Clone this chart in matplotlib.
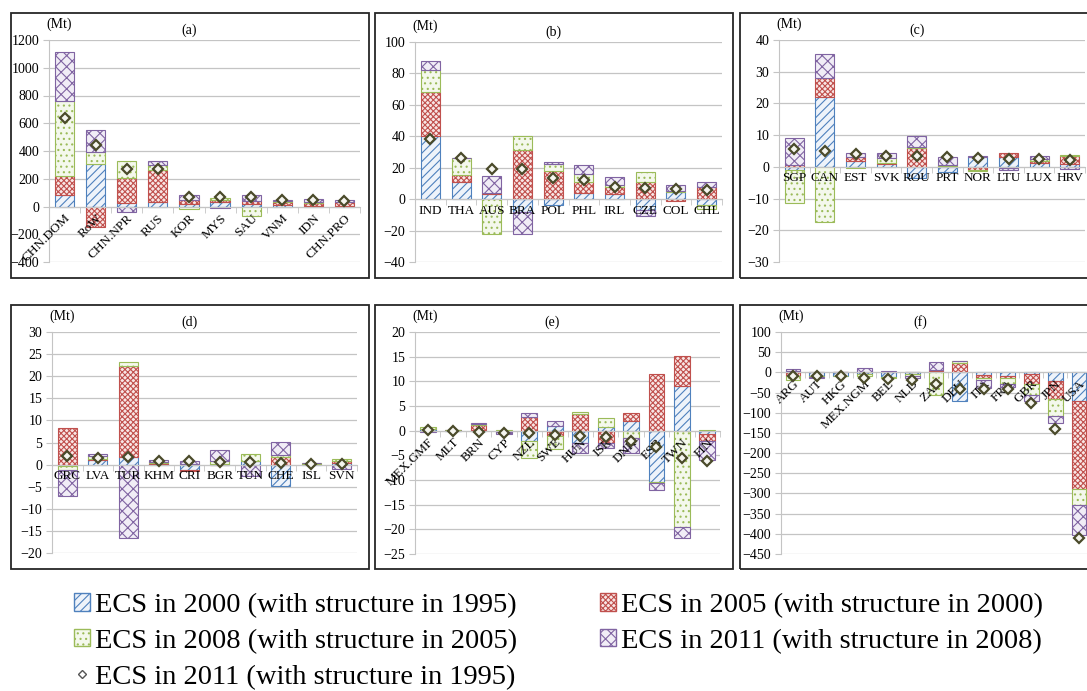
import matplotlib
matplotlib.use("Agg")
import matplotlib.pyplot as plt
import matplotlib.patches as mpatches
from matplotlib.lines import Line2D
import numpy as np

plt.rcParams['font.family'] = ['Liberation Serif', 'DejaVu Serif']
plt.rcParams['hatch.linewidth'] = 0.8

# ---------------- data ----------------
series_labels = ['ECS in 2000 (with structure in 1995)',
                 'ECS in 2005 (with structure in 2000)',
                 'ECS in 2008 (with structure in 2005)',
                 'ECS in 2011 (with structure in 2008)']
total_label = 'ECS in 2011 (with structure in 1995)'

cats_a = ['CHN.DOM', 'RoW', 'CHN.NPR', 'RUS', 'KOR', 'MYS', 'SAU', 'VNM', 'IDN', 'CHN.PRO']
a_2000 = [85, 305, 25, 30, 20, 30, 15, 10, 5, 5]
a_2005 = [135, -145, 180, 235, 30, 20, 25, 25, 20, 25]
a_2008 = [540, 85, 125, 35, -15, 10, -65, 5, 10, 5]
a_2011 = [355, 160, -40, 25, 35, -10, 40, 10, 20, 15]
a_total = [635, 440, 270, 270, 70, 65, 65, 50, 45, 40]

cats_b = ['IND', 'THA', 'AUS', 'BRA', 'POL', 'PHL', 'IRL', 'CZE', 'COL', 'CHL']
b_2000 = [40, 11, 3, -8, -4, 4, 3, -7, 4.5, -4]
b_2005 = [28, 4.5, 1, 31, 18, 7, 5, 11, -1, 8]
b_2008 = [14, 10.5, -22, 9, 4.5, 5, 1, 6, 1, -2]
b_2011 = [6, 0, 11, -14, 1, 5.5, 5, -4, 3.5, 3]
b_total = [38, 26.5, 19.5, 19, 13.5, 12, 7.5, 7, 6.5, 6]

cats_c = ['SGP', 'CAN', 'EST', 'SVK', 'ROU', 'PRT', 'NOR', 'LTU', 'LUX', 'HRV']
c_2000 = [-1, 22, 1.8, 1, -3.5, -1.5, 3, 3.2, 1.2, 1]
c_2005 = [0.5, 6, 1.2, 0.3, 6, 0.2, -1, 1.2, 0.8, 2.5]
c_2008 = [-10.5, -17.5, -0.3, 1.5, 0.3, 0.5, -0.3, -0.5, 0.5, 0.3]
c_2011 = [8.5, 7.5, 1.3, 1.5, 3.5, 2.3, 0.5, -0.5, 0.8, -0.8]
c_total = [5.5, 5, 4, 3.5, 3.3, 3, 2.7, 2.5, 2.5, 2.2]

cats_d = ['GRC', 'LVA', 'TUR', 'KHM', 'CRI', 'BGR', 'TUN', 'CHE', 'ISL', 'SVN']
d_2000 = [-0.3, 1.1, 1.8, 0.1, -1.2, 0.1, 0.8, -4.8, 0.1, 0.3]
d_2005 = [8.2, 0.1, 20.5, 0.3, -0.3, -0.1, 0.1, 1.8, 0.1, 0.5]
d_2008 = [-1.0, 0.8, 0.8, 0.2, 0.2, 0.8, 1.4, 0.4, 0.05, 0.5]
d_2011 = [-5.7, 0.3, -16.5, 0.4, 0.6, 2.4, -2.5, 3.0, 0.1, -1.0]
d_total = [2, 1.6, 1.7, 0.9, 0.9, 0.6, 0.5, 0.3, 0.2, 0.2]

cats_e = ['MEX.GMF', 'MLT', 'BRN', 'CYP', 'NZL', 'SWE', 'HUN', 'ISR', 'DNK', 'ESB', 'TWN', 'FIN']
e_2000 = [0.3, 0.05, 0.1, -0.2, -2, 1, -2.5, 0.8, 2, -10.5, 9, -0.7]
e_2005 = [0.1, 0.05, 1.1, -0.1, 2.8, -1, 3.3, -2.5, 1.5, 11.4, 6.2, -1.3]
e_2008 = [0.4, 0.05, 0.1, 0.2, -3.5, -2.7, 0.4, 1.8, -1.5, -0.2, -19.5, 0.2]
e_2011 = [-0.2, -0.1, 0.2, -0.3, 0.7, 1, -2, -1, -3, -1.3, -2.2, -4]
e_total = [0.1, 0, -0.2, -0.5, -0.5, -0.8, -1, -1.2, -2, -3.3, -5.5, -6.2]

cats_f = ['ARG', 'AUT', 'HKG', 'MEX.NGM', 'BEL', 'NLD', 'ZAF', 'DEU', 'ITA', 'FRA', 'GBR', 'JPN', 'USA']
f_2000 = [3, -8, -8, -5, -12, -5, 3, -70, -7, -10, -5, -22, -72]
f_2005 = [-10, 2, 0.5, 2, 1, 2, 2, 22, -6, -5, -25, -45, -216]
f_2008 = [-10, -3, -2, -5, -3, -5, -57, 5, -5, -13, -25, -40, -40]
f_2011 = [5, -3, 0.5, 8, 2, -3, 20, 0, -20, -8, -15, -18, -75]
f_total = [-10, -10, -10, -15, -17, -18, -30, -40, -40, -40, -77, -140, -410]

# ---------------- style ----------------
edge_colors = ['#4f81bd', '#c0504d', '#9bbb59', '#8064a2']
face_colors = ['#eef3fa', '#f8e6e5', '#f4f8ec', '#f1edf6']
hatches = ['////', 'xxxxxx', '...', 'xxx']
grid_color = '#c4c4c4'
tick_fs = 9.5

W, H = 1087, 691
fig = plt.figure(figsize=(W / 100, H / 100), dpi=100)


def px_axes(left, right, top, bottom):
    return fig.add_axes([left / W, 1 - bottom / H, (right - left) / W, (bottom - top) / H])


def frame(left, right, top, bottom):
    r = mpatches.Rectangle((left / W, 1 - bottom / H), (right - left) / W, (bottom - top) / H,
                           transform=fig.transFigure, fill=False, edgecolor='#262626',
                           linewidth=1.3, zorder=0)
    fig.add_artist(r)


def panel(pos, frm, cats, series, total, ylim, step, tag, rotate, tag_x=0.45):
    frame(*frm)
    ax = px_axes(*pos)
    x = np.arange(len(cats))
    pos_b = np.zeros(len(cats))
    neg_b = np.zeros(len(cats))
    for i, vals in enumerate(series):
        v = np.array(vals, dtype=float)
        bottoms = np.where(v >= 0, pos_b, neg_b)
        ax.bar(x, v, bottom=bottoms, width=0.62, facecolor=face_colors[i],
               edgecolor=edge_colors[i], hatch=hatches[i], linewidth=0.8, zorder=3)
        pos_b = pos_b + np.where(v >= 0, v, 0)
        neg_b = neg_b + np.where(v < 0, v, 0)
    ax.plot(x, total, linestyle='none', marker='D', markersize=5.5,
            markerfacecolor='#f5f5ef', markeredgecolor='#4a4a2a', markeredgewidth=1.6, zorder=7)
    ax.set_xlim(-0.5, len(cats) - 0.5)
    ax.set_ylim(*ylim)
    ax.set_yticks(np.arange(ylim[0], ylim[1] + step / 2, step))
    ax.yaxis.grid(True, color=grid_color, linewidth=0.9, zorder=0)
    ax.set_axisbelow(True)
    ax.xaxis.set_zorder(6)
    for s in ['top', 'right']:
        ax.spines[s].set_visible(False)
    ax.spines['left'].set_color(grid_color)
    ax.spines['bottom'].set_color(grid_color)
    ax.spines['bottom'].set_position(('data', 0))
    ax.spines['bottom'].set_zorder(4)
    ax.tick_params(axis='y', length=4, color=grid_color, labelsize=tick_fs + 0.5, pad=3)
    ax.set_xticks(x)
    ax.set_xticks(np.arange(-0.5, len(cats), 1), minor=True)
    ax.tick_params(axis='x', which='major', length=0, labelsize=tick_fs, pad=4)
    ax.tick_params(axis='x', which='minor', length=4, color=grid_color)
    if rotate:
        ax.set_xticklabels(cats, rotation=45, ha='right', va='top', rotation_mode='anchor')
    else:
        ax.set_xticklabels(cats)
    ax.text(-0.01, 1.04, '(Mt)', transform=ax.transAxes, fontsize=10, ha='left', va='bottom')
    ax.text(tag_x, 1.015, tag, transform=ax.transAxes, fontsize=10, ha='center', va='bottom')
    return ax


panel((49, 360, 40, 262), (11, 369, 13, 278), cats_a,
      [a_2000, a_2005, a_2008, a_2011], a_total, (-400, 1200), 200, '(a)', True)
panel((415, 722, 42, 262), (375, 733, 13, 278), cats_b,
      [b_2000, b_2005, b_2008, b_2011], b_total, (-40, 100), 20, '(b)', False)
panel((779, 1085, 40, 262), (740, 1100, 13, 278), cats_c,
      [c_2000, c_2005, c_2008, c_2011], c_total, (-30, 40), 10, '(c)', False)
panel((52, 357, 332, 553), (11, 369, 305, 569), cats_d,
      [d_2000, d_2005, d_2008, d_2011], d_total, (-20, 30), 5, '(d)', False)
panel((415, 720, 332, 554), (375, 733, 305, 569), cats_e,
      [e_2000, e_2005, e_2008, e_2011], e_total, (-25, 20), 5, '(e)', True)
panel((781, 1091, 332, 554), (740, 1100, 305, 569), cats_f,
      [f_2000, f_2005, f_2008, f_2011], f_total, (-450, 100), 50, '(f)', True)

# ---------------- legend ----------------
handles = [mpatches.Patch(facecolor=face_colors[i], edgecolor=edge_colors[i], hatch=hatches[i],
                          linewidth=1.0) for i in range(4)]
diamond = Line2D([], [], linestyle='none', marker='D', markersize=4.5,
                 markerfacecolor='white', markeredgecolor='#555555', markeredgewidth=1.0)
order_h = [handles[0], handles[2], diamond, handles[1], handles[3]]
order_l = [series_labels[0], series_labels[2], total_label, series_labels[1], series_labels[3]]
fig.legend(order_h, order_l, ncol=2, loc='upper left', bbox_to_anchor=(74 / W, 1 - 593 / H),
           frameon=False, fontsize=20.5, handlelength=0.55, handleheight=0.55, handletextpad=0.2,
           labelspacing=0.38, columnspacing=2.9, borderpad=0, borderaxespad=0)

fig.savefig('out.png', dpi=100)
